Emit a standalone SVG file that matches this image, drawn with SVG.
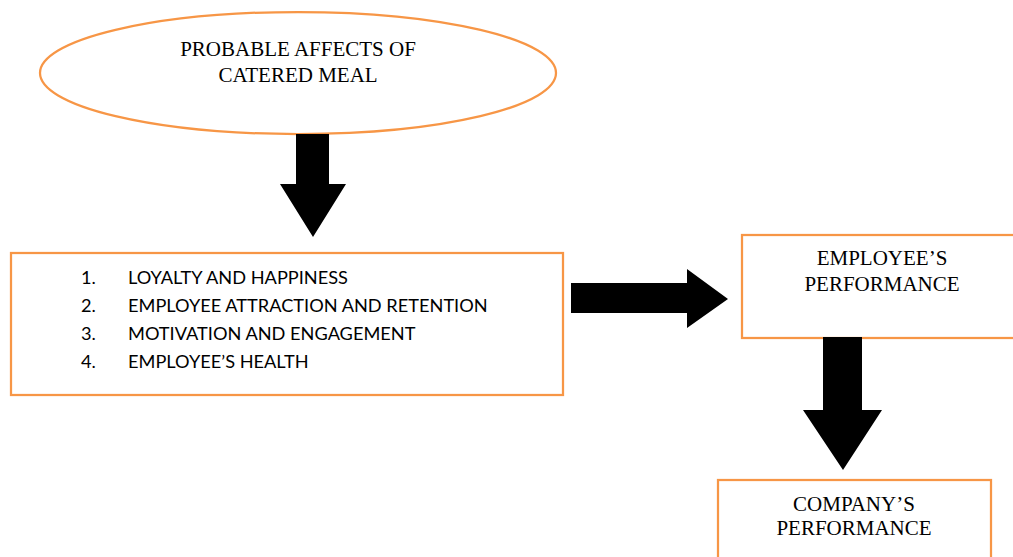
<svg xmlns="http://www.w3.org/2000/svg" width="1013" height="557" viewBox="0 0 1013 557">
<style>
.box{fill:#fff;stroke:#F79646;stroke-width:2.25}
.serif{font-family:"Liberation Serif","Times New Roman",serif;font-size:21px;fill:#000;text-anchor:middle}
.list{font-family:Lato,"Liberation Sans",sans-serif;font-size:18.2px;fill:#000}
.arrow{fill:#000}
</style>
<rect width="1013" height="557" fill="#fff"/>
<g id="node-affects">
<ellipse class="box" cx="298" cy="73" rx="258" ry="61"/>
<text class="serif" x="298" y="56">PROBABLE AFFECTS OF</text>
<text class="serif" x="298" y="82">CATERED MEAL</text>
</g>
<g id="node-list">
<rect class="box" x="11" y="253" width="552" height="142"/>
<text class="list" x="81" y="284">1.</text><text class="list" x="128" y="284">LOYALTY AND HAPPINESS</text>
<text class="list" x="81" y="312">2.</text><text class="list" x="128" y="312">EMPLOYEE ATTRACTION AND RETENTION</text>
<text class="list" x="81" y="340">3.</text><text class="list" x="128" y="340">MOTIVATION AND ENGAGEMENT</text>
<text class="list" x="81" y="368">4.</text><text class="list" x="128" y="368">EMPLOYEE’S HEALTH</text>
</g>
<g id="node-employee">
<rect class="box" x="742" y="235" width="290" height="103"/>
<text class="serif" x="882" y="265">EMPLOYEE’S</text>
<text class="serif" x="882" y="291">PERFORMANCE</text>
</g>
<g id="node-company">
<rect class="box" x="718" y="480" width="273" height="100"/>
<text class="serif" x="854" y="511">COMPANY’S</text>
<text class="serif" x="854" y="535">PERFORMANCE</text>
</g>
<g id="connectors">
<polygon class="arrow" points="296,134 329,134 329,184 346,184 313,237 280,184 296,184"/>
<polygon class="arrow" points="571,283 687,283 687,269 728,299 687,328 687,313 571,313"/>
<polygon class="arrow" points="823,337 862,337 862,410 882,410 843,470 803,410 823,410"/>
</g>
</svg>
